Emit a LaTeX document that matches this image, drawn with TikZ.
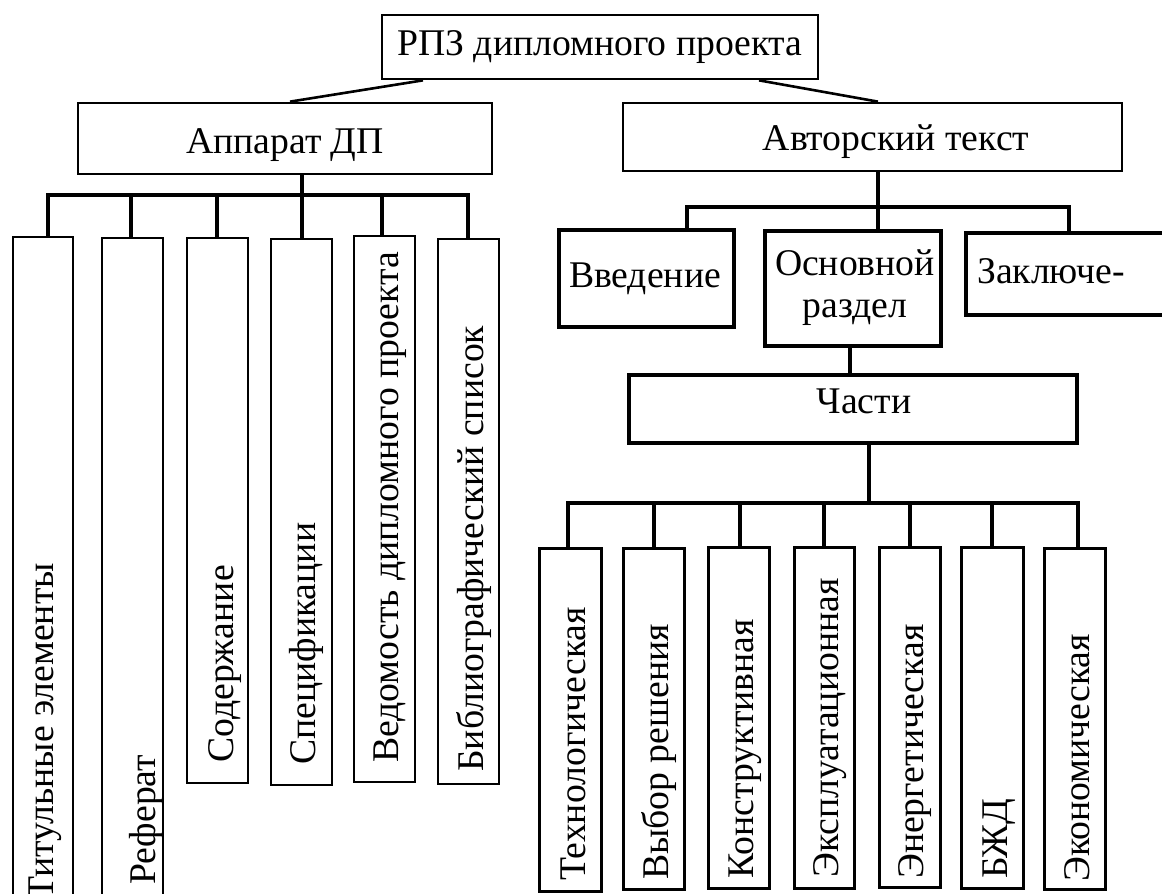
\documentclass[tikz,border=0pt]{standalone}
\usepackage{fontspec}
\setmainfont{Liberation Serif}
\begin{document}
\begin{tikzpicture}[x=1pt,y=-1pt,
  boxa/.style={draw, line width=2.7pt, inner sep=0pt},
  boxb/.style={draw, line width=4.2pt, inner sep=0pt},
  boxc/.style={draw, line width=3.0pt, inner sep=0pt},
  lbl/.style={inner sep=0pt, font=\fontsize{37.7}{40}\selectfont},
  vlbl/.style={inner sep=0pt, rotate=90, anchor=base west, font=\fontsize{37.7}{40}\selectfont},
  slant/.style={line width=2.6pt},
  trunk/.style={line width=4.2pt},
  barline/.style={line width=3.4pt, line cap=rect},
  drop/.style={line width=3.8pt}]
\useasboundingbox (0,0) rectangle (1162,894);
\clip (0,0) rectangle (1162,894);
\fill[white] (0,0) rectangle (1162,894);

% top level boxes
\node[boxa, minimum width=436pt, minimum height=64pt] (top) at (600,47) {};
\node[boxa, minimum width=414pt, minimum height=71pt] (app) at (285,138.5) {};
\node[boxa, minimum width=499pt, minimum height=68pt] (aut) at (872.5,137) {};

% left group boxes
\node[boxa, minimum width=60pt, minimum height=713pt] (b1) at (43,593.5) {};
\node[boxa, minimum width=61pt, minimum height=712pt] (b2) at (132.5,594) {};
\node[boxa, minimum width=61pt, minimum height=545pt] (b3) at (217.5,510.5) {};
\node[boxa, minimum width=61pt, minimum height=546pt] (b4) at (301.5,512) {};
\node[boxa, minimum width=61pt, minimum height=546pt] (b5) at (384.5,509) {};
\node[boxa, minimum width=61pt, minimum height=545pt] (b6) at (468.5,511.5) {};

% right middle boxes
\node[boxb, minimum width=175pt, minimum height=97pt] (vv) at (646.5,278.5) {};
\node[boxb, minimum width=176pt, minimum height=115pt] (osn) at (853,288.5) {};
\node[boxb, minimum width=284pt, minimum height=82pt] (zak) at (1108,274) {};
\node[boxc, line width=3.4pt, minimum width=448pt, minimum height=68pt] (chs) at (853,409) {};

% bottom boxes
\node[boxc, minimum width=62pt, minimum height=343pt] (t1) at (570,719.5) {};
\node[boxc, minimum width=61pt, minimum height=341pt] (t2) at (653.5,718.5) {};
\node[boxc, minimum width=61pt, minimum height=341pt] (t3) at (738.5,717.5) {};
\node[boxc, minimum width=60pt, minimum height=341pt] (t4) at (824,717.5) {};
\node[boxc, minimum width=61pt, minimum height=340pt] (t5) at (909.5,717) {};
\node[boxc, minimum width=62pt, minimum height=341pt] (t6) at (992,717.5) {};
\node[boxc, minimum width=61pt, minimum height=341pt] (t7) at (1074.5,719) {};

% horizontal labels
\node[lbl, anchor=base] (ltop) at (600,55) {РПЗ дипломного проекта};
\node[lbl, anchor=base] (lapp) at (285,153) {Аппарат ДП};
\node[lbl, anchor=base] (laut) at (896,150) {Авторский текст};
\node[lbl, anchor=base] (lvv) at (645,287) {Введение};
\node[lbl, anchor=base] (losn1) at (855,275) {Основной};
\node[lbl, anchor=base] (losn2) at (855,317) {раздел};
\node[lbl, anchor=base west] (lzak) at (977,283) {Заключе-};
\node[lbl, anchor=base] (lchs) at (864,413) {Части};

% vertical labels, left group
\node[vlbl] (v1) at (53,900) {Титульные элементы};
\node[vlbl] (v2) at (155,885) {Реферат};
\node[vlbl] (v3) at (233,763) {Содержание};
\node[vlbl] (v4) at (315,765) {Спецификации};
\node[vlbl] (v5) at (398,763) {Ведомость дипломного проекта};
\node[vlbl] (v6) at (483,772) {Библиографический список};

% vertical labels, bottom group
\node[vlbl] (w1) at (585,881) {Технологическая};
\node[vlbl] (w2) at (668.5,880) {Выбор решения};
\node[vlbl] (w3) at (753,879) {Конструктивная};
\node[vlbl] (w4) at (838,878) {Эксплуатационная};
\node[vlbl] (w5) at (923,879) {Энергетическая};
\node[vlbl] (w6) at (1007,879) {БЖД};
\node[vlbl] (w7) at (1089,882) {Экономическая};

% slanted connectors from the top box
\coordinate (xa) at (423,0);
\coordinate (xb) at (290,0);
\coordinate (xc) at (759,0);
\coordinate (xd) at (878,0);
\draw[slant] (top.south -| xa) -- (app.north -| xb);
\draw[slant] (top.south -| xc) -- (aut.north -| xd);

% left tree
\coordinate (dl1) at (48,195);
\coordinate (dl2) at (131,195);
\coordinate (dl3) at (217,195);
\coordinate (dl4) at (302,195);
\coordinate (dl5) at (382,195);
\coordinate (dl6) at (468,195);
\draw[trunk] (app.south -| dl4) -- (dl4);
\draw[barline] (dl1) -- (dl6);
\draw[drop] (dl1) -- (b1.north -| dl1);
\draw[drop] (dl2) -- (b2.north -| dl2);
\draw[drop] (dl3) -- (b3.north -| dl3);
\draw[drop] (dl4) -- (b4.north -| dl4);
\draw[drop] (dl5) -- (b5.north -| dl5);
\draw[drop] (dl6) -- (b6.north -| dl6);

% right tree
\coordinate (r1) at (687,207);
\coordinate (r2) at (878,207);
\coordinate (r3) at (1069,207);
\draw[trunk] (aut.south -| r2) -- (r2);
\draw[barline] (r1) -- (r3);
\draw[drop] (r1) -- (vv.north -| r1);
\draw[drop] (r2) -- (osn.north -| r2);
\draw[drop] (r3) -- (zak.north -| r3);

% Основной раздел -> Части
\coordinate (xr) at (850,0);
\draw[trunk] (osn.south -| xr) -- (chs.north -| xr);

% Части -> bottom group
\coordinate (d1) at (568,503);
\coordinate (d2) at (654,503);
\coordinate (d3) at (740,503);
\coordinate (d4) at (824,503);
\coordinate (d5) at (910,503);
\coordinate (d6) at (992,503);
\coordinate (d7) at (1078,503);
\coordinate (dp) at (869,503);
\draw[trunk] (chs.south -| dp) -- (dp);
\draw[barline] (d1) -- (d7);
\draw[drop] (d1) -- (t1.north -| d1);
\draw[drop] (d2) -- (t2.north -| d2);
\draw[drop] (d3) -- (t3.north -| d3);
\draw[drop] (d4) -- (t4.north -| d4);
\draw[drop] (d5) -- (t5.north -| d5);
\draw[drop] (d6) -- (t6.north -| d6);
\draw[drop] (d7) -- (t7.north -| d7);
\end{tikzpicture}
\end{document}
